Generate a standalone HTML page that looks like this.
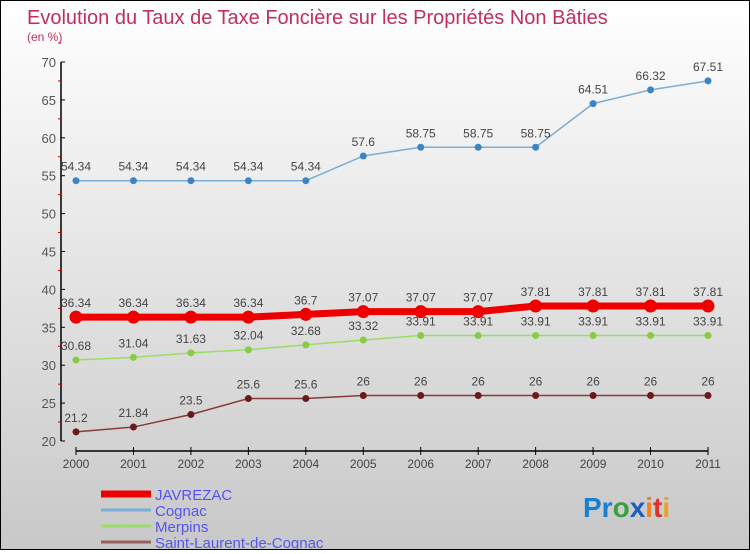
<!DOCTYPE html>
<html><head><meta charset="utf-8"><style>
html,body{margin:0;padding:0}
body{width:750px;height:550px;overflow:hidden;font-family:"Liberation Sans",sans-serif}
#c{position:absolute;left:0;top:0;width:748px;height:548px;border:1px solid #000;background:linear-gradient(#ffffff,#c8c8c8)}
</style></head><body>
<div id="c">
<svg width="748" height="548" xmlns="http://www.w3.org/2000/svg" id="svg">
<text x="26" y="23" font-size="20" fill="#c0305a">Evolution du Taux de Taxe Foncière sur les Propriétés Non Bâties</text>
<text x="26" y="40" font-size="12" fill="#c0305a">(en %)</text>
<g id="axes"></g>
<g id="series"></g>
<g id="legend"></g>
<text x="582" y="516" font-size="28" font-weight="bold"><tspan fill="#1a7fd0">Pr</tspan><tspan fill="#3aa040">o</tspan><tspan fill="#1a5fc0">x</tspan><tspan fill="#f08020">i</tspan><tspan fill="#e03030">t</tspan><tspan fill="#f0a020">i</tspan></text>
</svg></div>
<script>
const years=[2000,2001,2002,2003,2004,2005,2006,2007,2008,2009,2010,2011];
const javrezac=[36.34,36.34,36.34,36.34,36.7,37.07,37.07,37.07,37.81,37.81,37.81,37.81];
const cognac=[54.34,54.34,54.34,54.34,54.34,57.6,58.75,58.75,58.75,64.51,66.32,67.51];
const merpins=[30.68,31.04,31.63,32.04,32.68,33.32,33.91,33.91,33.91,33.91,33.91,33.91];
const stlaurent=[21.2,21.84,23.5,25.6,25.6,26,26,26,26,26,26,26];
const yTicks=[20,25,30,35,40,45,50,55,60,65,70];
const NS="http://www.w3.org/2000/svg";
const X=i=>75+i*(632/11);
const Y=v=>440-(v-20)*(379/50);
function mk(t,a,p){const e=document.createElementNS(NS,t);for(const k in a)e.setAttribute(k,a[k]);p.appendChild(e);return e;}
const ax=document.getElementById('axes');
let l=mk('line',{x1:60,y1:Y(70),x2:60,y2:Y(20),stroke:'#000','stroke-width':1.5},ax);

yTicks.forEach(v=>{
 mk('line',{x1:60,y1:Y(v),x2:64,y2:Y(v),stroke:'#000'},ax);
 mk('line',{x1:57,y1:Y(v+2.5),x2:60,y2:Y(v+2.5),stroke:'#c00'},ax);
 const t=mk('text',{x:55,y:Y(v)+5,'text-anchor':'end','font-size':13,fill:'#555'},ax);t.textContent=v;
 
});
l=mk('line',{x1:75,y1:450,x2:707,y2:450,stroke:'#000','stroke-width':1.5},ax);

years.forEach((yr,i)=>{
 mk('line',{x1:X(i),y1:446,x2:X(i),y2:454,stroke:'#000'},ax);
 const t=mk('text',{x:X(i),y:467,'text-anchor':'middle','font-size':12,fill:'#444'},ax);t.textContent=yr;
 
});
const sg=document.getElementById('series');
function series(d,name,col,w,r,dot,lab){
 const g=mk('g',{},sg);
 mk('polyline',{points:d.map((v,i)=>X(i)+','+Y(v)).join(' '),fill:'none',stroke:col,'stroke-width':w},g);
 d.forEach((v,i)=>{
  const c=mk('circle',{cx:X(i),cy:Y(v),r:r,fill:dot},g);
  
  if(lab){const t=mk('text',{x:X(i),y:Y(v)-10,'text-anchor':'middle','font-size':12,fill:'#444'},g);t.textContent=v;
  }
 });
}
series(cognac,'cognac','#7aaed4',1.5,3.5,'#3a85c5',true);
series(stlaurent,'saint-laurent','#8a3a3a',1.5,3.5,'#6a1a1a',true);
series(merpins,'merpins','#99dd66',1.5,3.5,'#88cc44',true);
series(javrezac,'javrezac','#ee0000',7,6.5,'#ee0000',true);
const lg=document.getElementById('legend');
[['JAVREZAC','#ee0000',7],['Cognac','#7aaed4',3],['Merpins','#99dd66',3],['Saint-Laurent-de-Cognac','#9a6060',3]].forEach((e,i)=>{
 const y=493+i*16;
 const g=mk('g',{},lg);
 mk('line',{x1:100,y1:y,x2:150,y2:y,stroke:e[1],'stroke-width':e[2]},g);
 const t=mk('text',{x:154,y:y+6,'font-size':15,fill:'#5555ee'},g);t.textContent=e[0];
});
</script>
</body></html>
